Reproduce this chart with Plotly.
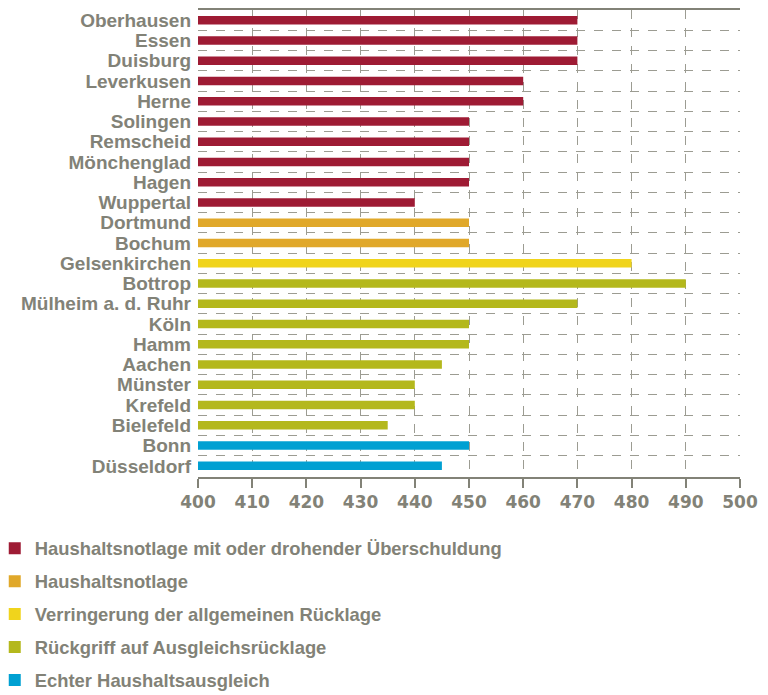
import plotly.graph_objects as go

cities = ["Oberhausen", "Essen", "Duisburg", "Leverkusen", "Herne", "Solingen",
          "Remscheid", "Mönchenglad", "Hagen", "Wuppertal", "Dortmund", "Bochum",
          "Gelsenkirchen", "Bottrop", "Mülheim a. d. Ruhr", "Köln", "Hamm", "Aachen",
          "Münster", "Krefeld", "Bielefeld", "Bonn", "Düsseldorf"]
values = [470, 470, 470, 460, 460, 450, 450, 450, 450, 440, 450, 450,
          480, 490, 470, 450, 450, 445, 440, 440, 435, 450, 445]
groups = [0, 0, 0, 0, 0, 0, 0, 0, 0, 0, 1, 1, 2, 3, 3, 3, 3, 3, 3, 3, 3, 4, 4]
group_names = ["Haushaltsnotlage mit oder drohender Überschuldung",
               "Haushaltsnotlage",
               "Verringerung der allgemeinen Rücklage",
               "Rückgriff auf Ausgleichsrücklage",
               "Echter Haushaltsausgleich"]
group_colors = ["#9e1b34", "#e0a82a", "#f0d41c", "#b4b81c", "#00a0d2"]
x_ticks = list(range(400, 501, 10))

GRAY = "#828277"
GRID = "#9c9c92"
FONT = "Liberation Sans, Arial, sans-serif"
NUMFONT = "DejaVu Sans, sans-serif"

fig = go.Figure()
for g, (name, col) in enumerate(zip(group_names, group_colors)):
    idx = [i for i, gg in enumerate(groups) if gg == g]
    fig.add_trace(go.Bar(
        x=[values[i] for i in idx],
        y=idx,
        orientation="h",
        name=f"<b>{name}</b>",
        legendgroup=f"g{g}",
        marker=dict(color=col, line=dict(width=0)),
        width=0.42,
    ))

n = len(cities)
fig.update_layout(
    width=768, height=695,
    margin=dict(l=190, r=36, t=2, b=226, autoexpand=False),
    paper_bgcolor="white", plot_bgcolor="white",
    font=dict(family=FONT, color=GRAY, size=15),
    barmode="overlay",
    showlegend=True,
    legend=dict(
        x=-0.375, xanchor="left", y=-0.113, yanchor="top",
        font=dict(family=FONT, size=18.4, color=GRAY),
        tracegroupgap=6,
        bgcolor="rgba(0,0,0,0)",
    ),
    xaxis=dict(
        range=[400, 500], tickvals=x_ticks,
        ticktext=[f"<b>{t}</b>" for t in x_ticks],
        showgrid=True, gridcolor=GRID, griddash="dash", gridwidth=1,
        showline=True, linecolor=GRAY, linewidth=2, mirror=True,
        ticks="outside", ticklen=9, tickcolor=GRAY, tickwidth=2,
        tickfont=dict(family=NUMFONT, size=17, color=GRAY),
        zeroline=False, fixedrange=True, automargin=False,
    ),
    yaxis=dict(
        range=[n - 1 + 0.55, -0.5],
        tickvals=list(range(n)),
        ticktext=[f"<b>{c}</b>" for c in cities],
        tickfont=dict(family=FONT, size=19, color=GRAY),
        showgrid=False, zeroline=False, showline=False,
        ticks="", ticklabelstandoff=6, automargin=False,
        minor=dict(tickvals=[i + 0.5 for i in range(n - 1)], showgrid=True,
                   gridcolor=GRID, griddash="dash", gridwidth=1),
    ),
)

fig.write_html("out.html")
